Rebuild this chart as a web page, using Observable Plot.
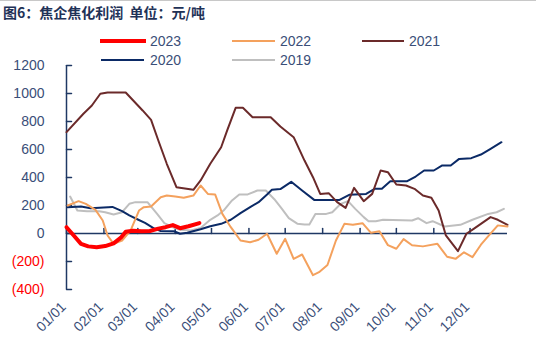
<!DOCTYPE html>
<html><head><meta charset="utf-8">
<script src="https://cdn.jsdelivr.net/npm/d3@7"></script>
<script src="https://cdn.jsdelivr.net/npm/@observablehq/plot@0.6"></script>
<style>
body{margin:0;background:#fff;}
#wrap{position:relative;width:536px;height:343px;overflow:hidden;font-family:"Liberation Sans",Arial,sans-serif;}
#title{position:absolute;left:0;top:0;width:536px;height:28px;border-top:1px solid #c8c8c8;box-sizing:border-box;font-family:"Noto Sans CJK SC",sans-serif;font-weight:bold;font-size:14px;color:#1F3257;line-height:22px;padding-left:3px;white-space:pre;}
#chart{position:absolute;left:0;top:30px;}
.lg{position:absolute;font-size:14px;line-height:16px;color:#3A4E78;font-family:"Liberation Sans",Arial,sans-serif;}
.sw{position:absolute;}
</style>
</head><body>
<div id="wrap">
  <div id="title">图6：焦企焦化利润  单位：元/吨</div>
  <div id="chart"></div>
</div>
<script>
// ---- data (day of year, value in 元/吨) ----
const seriesNames = ["2023","2022","2021","2020","2019"];
const seriesColors = ["#FF0000","#F4A15D","#6B2A2A","#0B2A66","#BFBFBF"];
const seriesWidths = [4,2,2,2,2];

const d2023 = [0,6,12,18,25,32,39,45,49,55,62,69,76,82,88,94,101,110];
const v2023 = [45,-14,-74,-92,-98,-90,-70,-30,12,20,16,18,35,45,60,38,52,74];

const d2022 = [1,10,16,24,30,34,39,46,53,60,64,70,78,83,90,97,105,111,117,123,129,136,144,152,159,166,174,181,188,195,204,209,216,223,230,237,245,252,259,266,273,279,286,295,307,315,322,329,336,343,350,357,365];
const v2022 = [200,231,212,169,93,-14,-74,-50,21,164,188,193,259,271,264,255,271,343,283,279,140,45,-50,-62,-45,-2,-145,-38,-181,-150,-298,-276,-225,-50,69,62,74,5,16,-83,-109,-40,-84,-92,-74,-166,-181,-134,-169,-80,-10,58,50];

const d2021 = [0,14,21,28,34,49,63,70,76,83,91,105,111,119,128,133,140,146,154,169,177,188,197,204,210,217,224,231,238,246,253,260,266,273,281,288,295,302,308,314,324,331,337,351,357,365];
const v2021 = [724,855,914,998,1007,1007,879,812,664,498,331,312,379,498,616,736,898,898,831,831,764,688,521,402,283,288,224,183,326,231,283,450,438,350,343,319,271,255,164,-14,-126,-2,33,117,98,62];

const d2020 = [1,12,20,38,46,52,59,65,72,78,89,94,100,111,119,128,136,144,152,159,166,170,177,186,195,205,226,234,248,255,261,268,282,289,296,304,311,318,325,335,343,351,360];
const v2020 = [188,193,181,190,160,129,100,76,38,18,16,-2,5,30,52,69,98,145,188,224,279,312,317,369,307,240,240,276,283,319,319,374,374,407,450,450,486,486,533,538,564,605,652];

const d2019 = [3,9,17,27,32,39,46,52,57,67,75,81,88,94,103,111,119,125,130,137,143,150,158,165,172,178,184,191,197,201,206,215,220,227,233,239,246,250,256,262,286,291,298,303,313,326,336,349,356,362];
const v2019 = [264,164,159,159,152,136,152,212,224,224,140,74,45,26,22,40,98,129,164,236,279,279,307,307,245,180,110,70,64,64,140,140,152,212,231,176,117,88,88,98,93,109,74,88,50,62,98,140,152,176];

const yTicks = [-400,-200,0,200,400,600,800,1000,1200];
const yLabels = ["(400)","(200)","0","200","400","600","800","1000","1200"];
const monthDays = [0,31,59,90,120,151,181,212,243,273,304,334];
const xLabels = ["01/01","02/01","03/01","04/01","05/01","06/01","07/01","08/01","09/01","10/01","11/01","12/01"];

// ---- build ----
const days = [d2023,d2022,d2021,d2020,d2019];
const vals = [v2023,v2022,v2021,v2020,v2019];
const series = seriesNames.map((name,i)=>({name, color: seriesColors[i], width: seriesWidths[i],
  data: days[i].map((d,j)=>({d, v: vals[i][j]}))}));

const axisColor = "#1F3864";
const labelColor = "#3A4E78";
const tickShape = {draw(context, l){ context.moveTo(0,0); context.lineTo(0,-l); }};

const drawOrder = [4,3,2,1,0];
const chart = Plot.plot({
  width: 536, height: 313,
  marginTop: 35, marginBottom: 54, marginLeft: 66, marginRight: 29,
  x: {domain: [0,365], axis: null},
  y: {domain: [-400,1200], axis: null},
  style: {fontFamily: "'Liberation Sans', Arial, sans-serif", fontSize: "14px", background: "transparent", overflow: "visible"},
  marks: [
    Plot.ruleX([0], {y1: -400, y2: 1200, stroke: axisColor, strokeWidth: 1.5}),
    Plot.ruleY([0], {stroke: axisColor, strokeWidth: 1.5}),
    Plot.vector(yTicks, {x: 0, y: d=>d, length: 5, rotate: 90, anchor: "start", shape: tickShape, stroke: axisColor, strokeWidth: 1.5}),
    Plot.vector(monthDays, {x: d=>d, y: 0, length: 5, rotate: 0, anchor: "start", shape: tickShape, stroke: axisColor, strokeWidth: 1.5}),
    Plot.text(yTicks, {x: 0, y: d=>d, text: (d,i)=>yLabels[i], textAnchor: "end", dx: -22, fill: d => d < 0 ? "#FF0000" : labelColor, fontSize: 14}),
    Plot.text(monthDays, {x: d=>d, y: -400, text: (d,i)=>xLabels[i], rotate: -45, textAnchor: "end", dx: -3, dy: 15, fill: labelColor, fontSize: 14}),
    ...drawOrder.map(i => Plot.line(series[i].data, {x: "d", y: "v", stroke: series[i].color, strokeWidth: series[i].width, strokeLinejoin: "round", strokeLinecap: "round"}))
  ]
});
document.getElementById("chart").appendChild(chart);

// ---- legend ----
const legendPos = [
  {sx:100, sw:46, tx:150, y:41},
  {sx:232, sw:43, tx:280, y:41},
  {sx:362, sw:42, tx:409, y:41},
  {sx:101, sw:43, tx:150, y:60},
  {sx:232, sw:43, tx:280, y:60}
];
const wrap = document.getElementById("wrap");
series.forEach((s,i)=>{
  const p = legendPos[i];
  const sw = document.createElement("div");
  sw.className = "sw";
  sw.style.left = p.sx + "px";
  sw.style.width = p.sw + "px";
  sw.style.top = (p.y - s.width/2) + "px";
  sw.style.height = s.width + "px";
  sw.style.background = s.color;
  wrap.appendChild(sw);
  const t = document.createElement("div");
  t.className = "lg";
  t.style.left = p.tx + "px";
  t.style.top = (p.y - 8) + "px";
  t.textContent = s.name;
  wrap.appendChild(t);
});
</script>
</body></html>
